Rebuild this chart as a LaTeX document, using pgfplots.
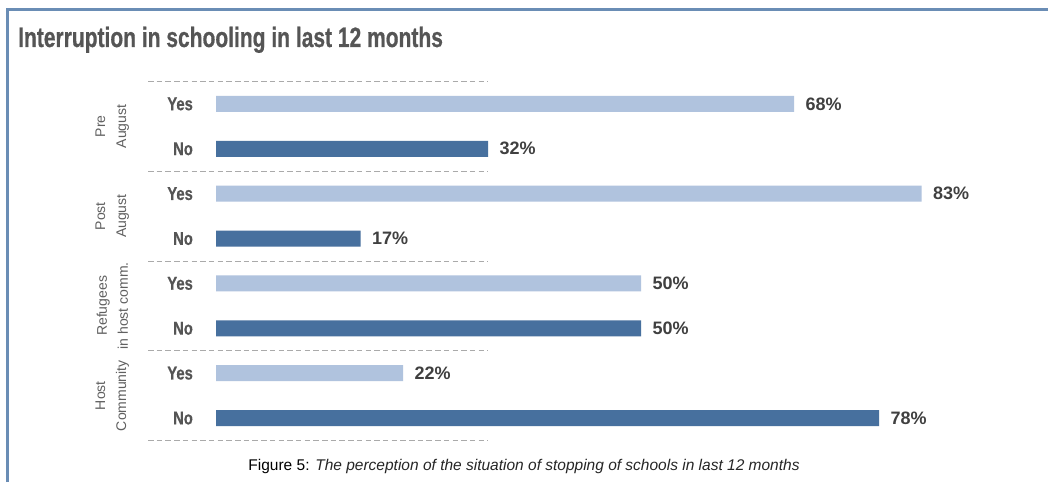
\documentclass[border=0pt]{standalone}
\usepackage{pgfplots}
\pgfplotsset{compat=1.18}
\usepackage{pgfplotstable}
\usepackage{fontspec}
\setmainfont{Liberation Sans}
\newfontfamily\condfont[FakeStretch=0.8,FakeBold=0.5]{Liberation Sans}
\newfontfamily\titlefont[FakeStretch=0.75,FakeBold=0.6]{Liberation Sans}
\definecolor{lightbar}{HTML}{B0C3DE}
\definecolor{darkbar}{HTML}{47709E}
\definecolor{labelgray}{HTML}{555555}
\definecolor{valgray}{HTML}{404040}
\definecolor{groupgray}{HTML}{606060}
\definecolor{frameblue}{HTML}{6A8DB5}
\definecolor{sepgray}{HTML}{AAAAAA}

\pgfplotstableread{
y val
0 68
2 83
4 50
6 22
}\yesdata
\pgfplotstableread{
y val
1 32
3 17
5 50
7 78
}\nodata

\tikzset{
  ylab/.style={anchor=east, inner sep=0pt, text=labelgray, font=\condfont\bfseries\fontsize{18.5}{20}\selectfont},
  grp/.style={rotate=90, align=center, text=groupgray, inner sep=0pt, font=\fontsize{14}{21}\selectfont},
}

\begin{document}
\begin{tikzpicture}[x=1pt,y=1pt]
\useasboundingbox (0,0) rectangle (1048,482);
\fill[white] (0,0) rectangle (1048,482);
\draw[frameblue, line width=2.5pt] (7.3,0) -- (7.3,472.5) -- (1049,472.5);
\node[anchor=base west, text=labelgray, inner sep=0pt,
  font=\titlefont\bfseries\fontsize{28}{32}\selectfont] at (18,435) {Interruption in schooling in last 12 months};
\node[anchor=base, inner sep=0pt, font=\fontsize{15.5}{18}\selectfont] at (524,12)
  {Figure 5: \textcolor{black!85}{\itshape The perception of the situation of stopping of schools in last 12 months}};

\begin{axis}[
  at={(148pt,41.5pt)}, anchor=south west,
  scale only axis, width=892.5pt, height=359pt,
  xmin=-8, xmax=97, ymin=-0.5, ymax=7.5,
  y dir=reverse, axis lines=none, clip=false,
  bar width=16pt,
]
\pgfplotsinvokeforeach{-0.5,1.5,3.5,5.5,7.5}{
  \addplot[sepgray, line width=0.8pt, dash pattern=on 5.5pt off 3.2pt, no marks, forget plot]
    coordinates {(-8,#1) (32,#1)};
}
\addplot[xbar, bar shift=0pt, draw=none, fill=lightbar, point meta=x,
  nodes near coords={\pgfmathprintnumber[assume math mode=true]{\pgfplotspointmeta}\%},
  nodes near coords style={anchor=west, xshift=8pt, text=valgray, font=\bfseries\fontsize{18}{20}\selectfont}]
  table[x=val, y=y] {\yesdata};
\addplot[xbar, bar shift=0pt, draw=none, fill=darkbar, point meta=x,
  nodes near coords={\pgfmathprintnumber[assume math mode=true]{\pgfplotspointmeta}\%},
  nodes near coords style={anchor=west, xshift=8pt, text=valgray, font=\bfseries\fontsize{18}{20}\selectfont}]
  table[x=val, y=y] {\nodata};

\node[ylab] at (axis cs:-2.7,0) {Yes};
\node[ylab] at (axis cs:-2.7,1) {No};
\node[ylab] at (axis cs:-2.7,2) {Yes};
\node[ylab] at (axis cs:-2.7,3) {No};
\node[ylab] at (axis cs:-2.7,4) {Yes};
\node[ylab] at (axis cs:-2.7,5) {No};
\node[ylab] at (axis cs:-2.7,6) {Yes};
\node[ylab] at (axis cs:-2.7,7) {No};
\node[grp] at (axis cs:-12.2,0.5) {Pre\\August};
\node[grp] at (axis cs:-12.2,2.5) {Post\\August};
\node[grp] at (axis cs:-12.2,4.5) {Refugees\\in host comm.};
\node[grp] at (axis cs:-12.2,6.5) {Host\\Community};
\end{axis}
\end{tikzpicture}
\end{document}
